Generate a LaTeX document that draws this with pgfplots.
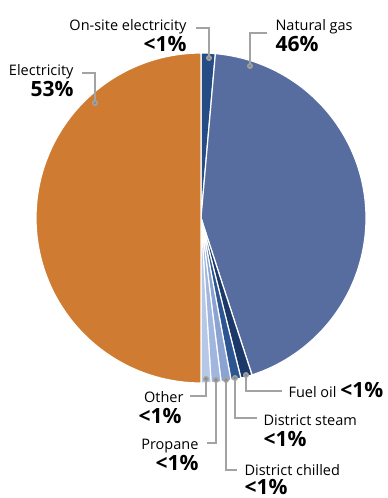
\documentclass[border=0pt]{standalone}
\usepackage{pgfplots}
\pgfplotsset{compat=1.18}
\usepackage{fontspec}
\setmainfont{Open Sans}
\definecolor{cElec}{HTML}{CF7B32}
\definecolor{cGas}{HTML}{576C9F}
\definecolor{cOnsite}{HTML}{264C86}
\definecolor{cFuel}{HTML}{1C3868}
\definecolor{cSteam}{HTML}{2D5591}
\definecolor{cChill}{HTML}{8AA3D3}
\definecolor{cProp}{HTML}{A0B6DF}
\definecolor{cOther}{HTML}{B5C8E8}
\definecolor{cText}{HTML}{231F20}
\definecolor{cLead}{HTML}{A3A3A3}
\newcommand{\lab}{\fontsize{14.5}{16}\selectfont}
\newcommand{\pct}{\fontsize{21}{23}\selectfont\bfseries}
\begin{document}
\begin{tikzpicture}
\useasboundingbox (0,0) rectangle (388pt,498pt);
\begin{axis}[
  at={(0,0)}, anchor=south west,
  width=388pt, height=498pt, scale only axis,
  xmin=0, xmax=388, ymin=0, ymax=498, y dir=reverse,
  hide axis, clip=false,
  every node/.style={text=cText, inner xsep=0pt},
]
% slices: start and end angle (degrees, clockwise from top)
\addplot[fill=cOnsite, draw=white, line width=1.2pt, domain=0:5, samples=10, variable=\t] ({201+165*sin(t)},{218-165*cos(t)}) -- (axis cs:201,218) -- cycle;
\addplot[fill=cGas, draw=white, line width=1.2pt, domain=5:162, samples=120, variable=\t] ({201+165*sin(t)},{218-165*cos(t)}) -- (axis cs:201,218) -- cycle;
\addplot[fill=cFuel, draw=white, line width=1.2pt, domain=162:166, samples=10, variable=\t] ({201+165*sin(t)},{218-165*cos(t)}) -- (axis cs:201,218) -- cycle;
\addplot[fill=cSteam, draw=white, line width=1.2pt, domain=166:169.5, samples=10, variable=\t] ({201+165*sin(t)},{218-165*cos(t)}) -- (axis cs:201,218) -- cycle;
\addplot[fill=cChill, draw=white, line width=1.2pt, domain=169.5:173, samples=10, variable=\t] ({201+165*sin(t)},{218-165*cos(t)}) -- (axis cs:201,218) -- cycle;
\addplot[fill=cProp, draw=white, line width=1.2pt, domain=173:176.5, samples=10, variable=\t] ({201+165*sin(t)},{218-165*cos(t)}) -- (axis cs:201,218) -- cycle;
\addplot[fill=cOther, draw=white, line width=1.2pt, domain=176.5:180, samples=10, variable=\t] ({201+165*sin(t)},{218-165*cos(t)}) -- (axis cs:201,218) -- cycle;
\addplot[fill=cElec, draw=white, line width=1.2pt, domain=180:360, samples=140, variable=\t] ({201+165*sin(t)},{218-165*cos(t)}) -- (axis cs:201,218) -- cycle;
% leader lines
\pgfplotsset{leader/.style={cLead, line width=1.3pt, mark=*, mark size=2.3pt, mark indices={1}, mark options={fill=cLead!85!black, draw=none}}}
\addplot[leader] coordinates {(209,58) (209,28) (196,28)};
\addplot[leader] coordinates {(250,66) (250,33) (267,33)};
\addplot[leader] coordinates {(95,103) (95,73) (82,73)};
\addplot[leader] coordinates {(246,375) (246,391) (282,391)};
\addplot[leader] coordinates {(235,378) (235,418) (257,418)};
\addplot[leader] coordinates {(226,380) (226,470) (237,470)};
\addplot[leader] coordinates {(216,380) (216,443) (207,443)};
\addplot[leader] coordinates {(206,379) (206,396) (190,396)};
% labels
\node[anchor=base east, font=\lab] at (axis cs:190,30) {On-site electricity};
\node[anchor=base east, font=\pct] at (axis cs:190,51) {<1\%};
\node[anchor=base west, font=\lab] at (axis cs:272,30) {Natural gas};
\node[anchor=base west, font=\pct] at (axis cs:272,51) {46\%};
\node[anchor=base east, font=\lab] at (axis cs:77,75) {Electricity};
\node[anchor=base east, font=\pct] at (axis cs:77,96) {53\%};
\node[anchor=base west, font=\lab] at (axis cs:285,397) {Fuel oil \pct <1\%};
\node[anchor=base west, font=\lab] at (axis cs:260,425) {District steam};
\node[anchor=base west, font=\pct] at (axis cs:260,446) {<1\%};
\node[anchor=base west, font=\lab] at (axis cs:241,475) {District chilled};
\node[anchor=base west, font=\pct] at (axis cs:241,494) {<1\%};
\node[anchor=base east, font=\lab] at (axis cs:202,449) {Propane};
\node[anchor=base east, font=\pct] at (axis cs:202,470) {<1\%};
\node[anchor=base east, font=\lab] at (axis cs:187,402) {Other};
\node[anchor=base east, font=\pct] at (axis cs:185,423) {<1\%};
\end{axis}
\end{tikzpicture}
\end{document}
